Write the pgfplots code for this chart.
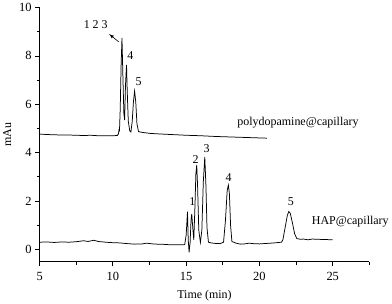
\documentclass[border=0pt]{standalone}
\usepackage{pgfplots}
\pgfplotsset{compat=1.18}
\usepackage{fontspec}
\setmainfont{Liberation Serif}
\begin{document}
\begin{tikzpicture}
\begin{axis}[
  scale only axis,
  width=331pt, height=255pt,
  xmin=5, xmax=27.5, ymin=-0.5, ymax=10,
  axis x line=bottom, axis y line=left,
  axis line style={-, line width=0.8pt},
  xtick={5,10,15,20,25},
  minor xtick={7.5,12.5,17.5,22.5,27.5},
  ytick={0,2,4,6,8,10},
  minor ytick={1,3,5,7,9},
  tick align=outside,
  major tick length=4.5pt, minor tick length=3pt,
  tick style={line width=0.8pt, black},
  /pgf/number format/assume math mode=true,
  tick label style={font=\fontsize{12.5}{14}\selectfont},
  xticklabel style={yshift=-3pt},
  xlabel={Time (min)}, ylabel={mAu},
  label style={font=\fontsize{12}{14}\selectfont},
  xlabel style={yshift=-2pt},
  ylabel style={yshift=1pt},
  clip=false,
]
\addplot[black, line width=0.75pt] coordinates {
(5,4.77)(5.5,4.75)(6,4.74)(6.5,4.73)(7,4.73)(7.5,4.72)(8,4.71)(8.5,4.72)(9,4.70)(9.5,4.70)(10,4.70)(10.3,4.71)(10.38,4.78)(10.42,4.95)(10.45,4.92)(10.5,5.8)(10.56,7.6)(10.62,8.75)(10.68,7.2)(10.75,5.6)(10.8,5.35)(10.86,6.8)(10.93,7.63)(10.98,6.5)(11.05,5.3)(11.15,4.9)(11.23,4.86)(11.32,5.3)(11.4,6.1)(11.48,6.55)(11.56,6.1)(11.64,5.2)(11.75,4.87)(12,4.84)(12.5,4.80)(13,4.78)(14,4.75)(15,4.72)(16,4.70)(17,4.67)(18,4.65)(19,4.63)(20,4.61)(20.5,4.60)
};
\addplot[black, line width=0.75pt] coordinates {
(5,0.30)(5.5,0.31)(6,0.29)(6.5,0.31)(7,0.30)(7.5,0.32)(8,0.36)(8.3,0.33)(8.7,0.38)(9,0.33)(9.5,0.30)(10,0.28)(10.5,0.27)(11,0.24)(11.5,0.22)(12,0.23)(12.3,0.26)(12.7,0.23)(13,0.22)(13.5,0.21)(14,0.19)(14.5,0.19)(14.9,0.2)(15.0,0.6)(15.09,1.56)(15.14,0.4)(15.2,-0.12)(15.27,0.3)(15.33,1.2)(15.38,1.47)(15.45,0.9)(15.52,0.4)(15.6,1.8)(15.66,3.1)(15.72,3.49)(15.78,2.6)(15.86,0.8)(15.97,0.29)(16.07,0.8)(16.17,2.8)(16.27,3.83)(16.35,2.6)(16.42,0.9)(16.52,0.3)(16.7,0.27)(17,0.25)(17.3,0.24)(17.55,0.3)(17.68,1.2)(17.8,2.45)(17.88,2.66)(17.95,2.3)(18.03,1.0)(18.12,0.33)(18.4,0.26)(18.7,0.22)(19,0.23)(19.3,0.26)(19.6,0.24)(20,0.23)(20.5,0.25)(21,0.27)(21.5,0.3)(21.6,0.4)(21.75,0.9)(21.9,1.4)(22.0,1.57)(22.1,1.5)(22.25,1.1)(22.4,0.65)(22.55,0.45)(22.8,0.42)(23,0.43)(23.3,0.40)(23.6,0.43)(24,0.42)(24.5,0.41)(25,0.40)
};
\begin{scope}[font=\fontsize{12}{14}\selectfont]
\node at (axis cs:8.83,9.31) {1 2 3};
\draw[-latex, line width=0.6pt] (axis cs:10.40,8.58) -- (axis cs:9.75,8.9);
\node at (axis cs:11.19,8.02) {4};
\node at (axis cs:11.76,6.95) {5};
\node at (axis cs:22.63,5.24) {polydopamine@capillary};
\node at (axis cs:15.43,1.97) {1};
\node at (axis cs:15.65,3.73) {2};
\node at (axis cs:16.4,4.18) {3};
\node at (axis cs:17.9,2.99) {4};
\node at (axis cs:22.14,1.99) {5};
\node at (axis cs:26.2,1.16) {HAP@capillary};
\end{scope}
\end{axis}
\end{tikzpicture}
\end{document}
